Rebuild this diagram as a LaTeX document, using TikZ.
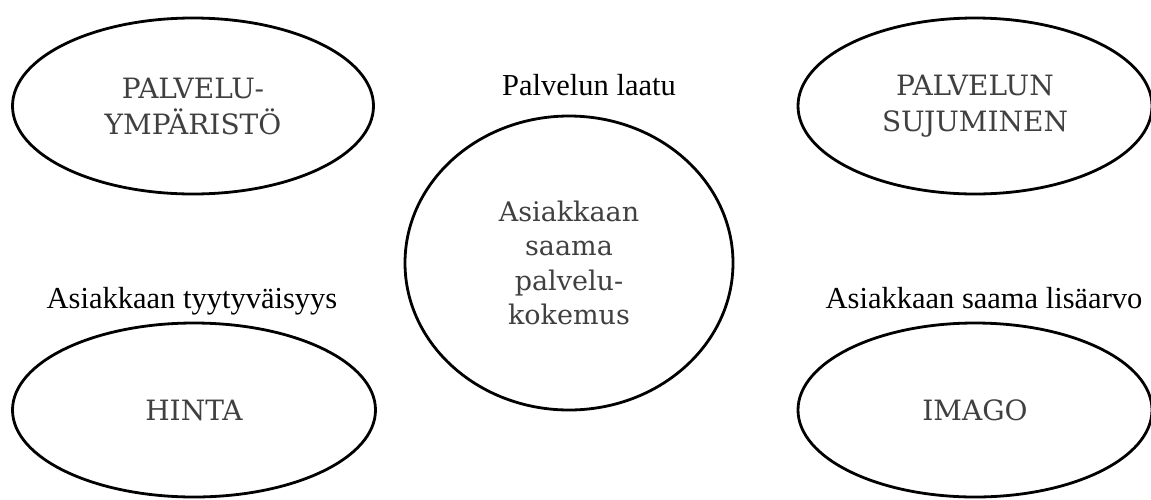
\documentclass[tikz,border=0pt]{standalone}
\usepackage{fontspec}
\setmainfont{Liberation Serif}
\newfontfamily\slabfont{DejaVu Serif}
\usetikzlibrary{shapes.geometric}
\begin{document}
\begin{tikzpicture}[x=1pt,y=-1pt,
  oval/.style={draw=black, line width=2.8pt, ellipse, inner sep=0pt,
    font=\slabfont\fontsize{28}{36}\selectfont, text=black!75, align=center},
  lbl/.style={font=\fontsize{30.5}{36}\selectfont, anchor=base, inner sep=0pt}]
\useasboundingbox (0,0) rectangle (1151,499);
\node[oval, minimum width=361pt, minimum height=176pt] (tl) at (193,106) {PALVELU-\\YMPÄRISTÖ};
\node[oval, minimum width=354pt, minimum height=176pt] (tr) at (975,106) {PALVELUN\\SUJUMINEN};
\node[oval, minimum width=363pt, minimum height=174pt] (bl) at (194,410) {HINTA};
\node[oval, minimum width=354pt, minimum height=174pt] (br) at (975,410) {IMAGO};
\node[oval, minimum width=328pt, minimum height=294pt,
  font=\slabfont\fontsize{27}{34.5}\selectfont] (c) at (569,263) {Asiakkaan\\saama\\palvelu-\\kokemus};
\node[lbl] (lq) at (589,95) {Palvelun laatu};
\node[lbl] (ls) at (192,308) {Asiakkaan tyytyväisyys};
\node[lbl] (lv) at (984,308) {Asiakkaan saama lisäarvo};
\end{tikzpicture}
\end{document}
